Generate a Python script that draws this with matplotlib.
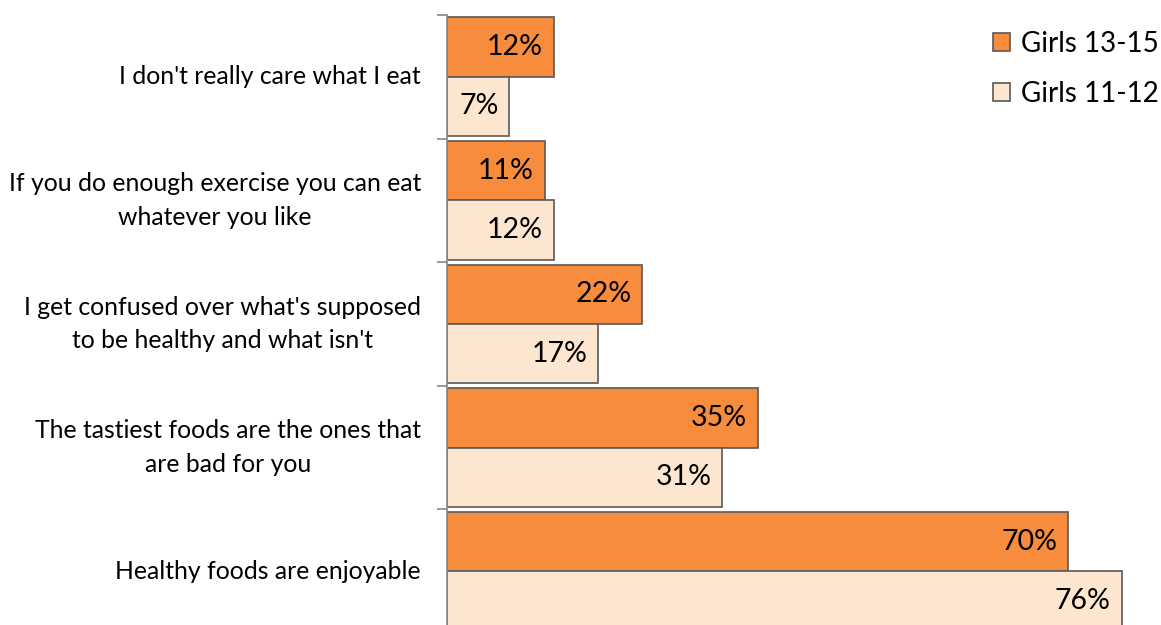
import matplotlib
matplotlib.use('Agg')

import matplotlib.pyplot as plt
import numpy as np

plt.rcParams['font.family'] = ['Lato', 'DejaVu Sans']

# Survey statements, top to bottom
statements = [
    "I don't really care what I eat",
    "If you do enough exercise you can eat\nwhatever you like",
    "I get confused over what's supposed\nto be healthy and what isn't",
    "The tastiest foods are the ones that\nare bad for you",
    "Healthy foods are enjoyable",
]
girls_13_15 = [12, 11, 22, 35, 70]
girls_11_12 = [7, 12, 17, 31, 76]

orange = '#F78C3D'
light = '#FDE6D0'
edge = '#595959'

fig = plt.figure(figsize=(11.61, 6.25), dpi=100)
# axes runs past the bottom edge, like the original crop
ax = fig.add_axes([447 / 1161, -8 / 625, 710 / 1161, 618 / 625])

y = np.arange(len(statements))
h = 0.48
b1 = ax.barh(y - h / 2, girls_13_15, height=h, color=orange, edgecolor=edge,
             linewidth=1.2, label='Girls 13-15')
b2 = ax.barh(y + h / 2, girls_11_12, height=h, color=light, edgecolor=edge,
             linewidth=1.2, label='Girls 11-12')

for bars, vals in [(b1, girls_13_15), (b2, girls_11_12)]:
    for bar, v in zip(bars, vals):
        ax.text(v - 1.2, bar.get_y() + bar.get_height() / 2, f"{v}%",
                ha='right', va='center', fontsize=20.5, color='black')

ax.set_xlim(0, 80)
ax.set_ylim(len(statements) - 0.5, -0.5)
ax.set_yticks(np.arange(-0.5, len(statements), 1))
ax.set_yticklabels([])
ax.tick_params(axis='y', direction='out', length=7, color='#888888', width=1.2)
ax.set_xticks([])
for s in ['top', 'right', 'bottom']:
    ax.spines[s].set_visible(False)
ax.spines['left'].set_color('#888888')
ax.spines['left'].set_linewidth(1.2)

for i, s in enumerate(statements):
    ax.text(-26 / 8.875, i, s, ha='right', va='center', multialignment='center',
            fontsize=17.8, linespacing=1.55)

ax.legend(loc='upper left', bbox_to_anchor=(979 / 1161, 1 - 17 / 625),
          bbox_transform=fig.transFigure, frameon=False, fontsize=20,
          handlelength=0.6, handleheight=0.6, handletextpad=0.4,
          labelspacing=0.85, borderpad=0)

fig.savefig('out.png', dpi=100)
